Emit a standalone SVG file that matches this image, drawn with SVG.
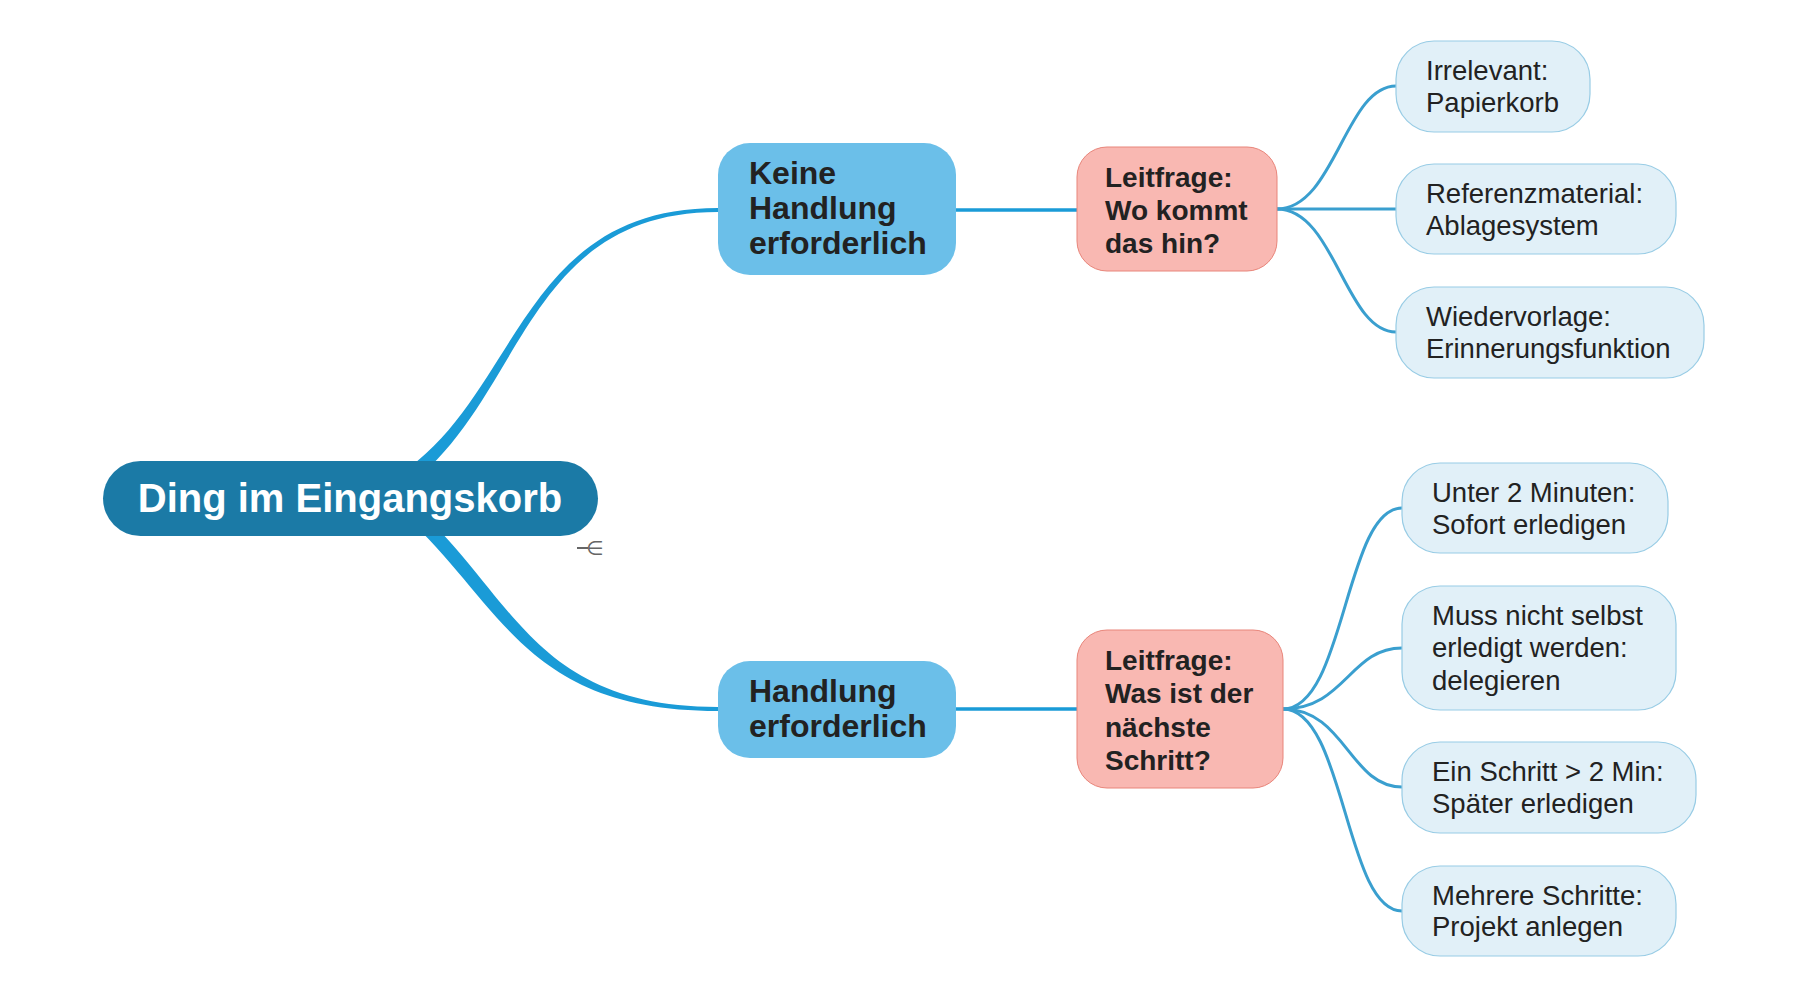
<svg xmlns="http://www.w3.org/2000/svg" width="1796" height="995" viewBox="0 0 1796 995">
<style>
.root{fill:#1b7aa6}
.main{fill:#6bbfe9}
.q{fill:#f9b8b2;stroke:#e8857a;stroke-width:1}
.leaf{fill:#e1f0f8;stroke:#98cce5;stroke-width:1.2}
.tb{font-family:"Liberation Sans",Arial,sans-serif;font-weight:bold;fill:#222}
.tr{font-family:"Liberation Sans",Arial,sans-serif;fill:#222;font-size:27.5px}
.thick{fill:#1a9bd7}
.thin{fill:none;stroke:#3a9fcf;stroke-width:3}
.mid{fill:none;stroke:#1a9bd7;stroke-width:3.5}
</style>
<rect width="1796" height="995" fill="#ffffff"/>
<g id="connectors">
<path class="thick" d="M 400 474 C 520 394, 520 208, 718 208 L 718 212 C 522 212, 524 404, 404 488 Z"/>
<path class="thick" d="M 392 488 C 512 578, 520 707, 718 707 L 718 711 C 512 711, 500 590, 386 500 Z"/>
<path class="mid" d="M 956 210 L 1077 210"/>
<path class="mid" d="M 956 709 L 1077 709"/>
<path class="thin" d="M 1277 209 C 1335 209, 1345 86, 1396 86"/>
<path class="thin" d="M 1277 209 L 1396 209"/>
<path class="thin" d="M 1277 209 C 1335 209, 1345 332, 1396 332"/>
<path class="thin" d="M 1283 709 C 1345 709, 1345 508, 1402 508"/>
<path class="thin" d="M 1283 709 C 1345 709, 1350 648, 1402 648"/>
<path class="thin" d="M 1283 709 C 1345 709, 1350 787, 1402 787"/>
<path class="thin" d="M 1283 709 C 1345 709, 1345 911, 1402 911"/>
</g>
<g id="root">
<rect class="root" x="103" y="461" width="495" height="75" rx="37.5"/>
<text x="350" y="512" text-anchor="middle" font-family="Liberation Sans, Arial, sans-serif" font-weight="bold" font-size="40" fill="#ffffff">Ding im Eingangskorb</text>
<line x1="577" y1="548" x2="588" y2="548" stroke="#666" stroke-width="2"/>
<text x="586" y="555" font-family="DejaVu Sans, sans-serif" font-size="20" fill="#666">∈</text>
</g>
<g id="keine">
<rect class="main" x="718" y="143" width="238" height="132" rx="32"/>
<text class="tb" font-size="32" x="749"><tspan x="749" y="184">Keine</tspan><tspan x="749" y="219">Handlung</tspan><tspan x="749" y="254">erforderlich</tspan></text>
</g>
<g id="handlung">
<rect class="main" x="718" y="661" width="238" height="97" rx="32"/>
<text class="tb" font-size="32" x="749"><tspan x="749" y="702">Handlung</tspan><tspan x="749" y="737">erforderlich</tspan></text>
</g>
<g id="leitfrage1">
<rect class="q" x="1077" y="147" width="200" height="124" rx="30"/>
<text class="tb" font-size="28"><tspan x="1105" y="187">Leitfrage:</tspan><tspan x="1105" y="220">Wo kommt</tspan><tspan x="1105" y="253">das hin?</tspan></text>
</g>
<g id="leitfrage2">
<rect class="q" x="1077" y="630" width="206" height="158" rx="30"/>
<text class="tb" font-size="28"><tspan x="1105" y="670">Leitfrage:</tspan><tspan x="1105" y="703">Was ist der</tspan><tspan x="1105" y="737">nächste</tspan><tspan x="1105" y="770">Schritt?</tspan></text>
</g>
<g id="leaf1">
<rect class="leaf" x="1396" y="41" width="194" height="91" rx="38"/>
<text class="tr"><tspan x="1426" y="80">Irrelevant:</tspan><tspan x="1426" y="112">Papierkorb</tspan></text>
</g>
<g id="leaf2">
<rect class="leaf" x="1396" y="164" width="280" height="90" rx="38"/>
<text class="tr"><tspan x="1426" y="203">Referenzmaterial:</tspan><tspan x="1426" y="235">Ablagesystem</tspan></text>
</g>
<g id="leaf3">
<rect class="leaf" x="1396" y="287" width="308" height="91" rx="38"/>
<text class="tr"><tspan x="1426" y="326">Wiedervorlage:</tspan><tspan x="1426" y="358">Erinnerungsfunktion</tspan></text>
</g>
<g id="leaf4">
<rect class="leaf" x="1402" y="463" width="266" height="90" rx="38"/>
<text class="tr"><tspan x="1432" y="502">Unter 2 Minuten:</tspan><tspan x="1432" y="534">Sofort erledigen</tspan></text>
</g>
<g id="leaf5">
<rect class="leaf" x="1402" y="586" width="274" height="124" rx="38"/>
<text class="tr"><tspan x="1432" y="625">Muss nicht selbst</tspan><tspan x="1432" y="657">erledigt werden:</tspan><tspan x="1432" y="690">delegieren</tspan></text>
</g>
<g id="leaf6">
<rect class="leaf" x="1402" y="742" width="294" height="91" rx="38"/>
<text class="tr"><tspan x="1432" y="781">Ein Schritt &gt; 2 Min:</tspan><tspan x="1432" y="813">Später erledigen</tspan></text>
</g>
<g id="leaf7">
<rect class="leaf" x="1402" y="866" width="274" height="90" rx="38"/>
<text class="tr"><tspan x="1432" y="905">Mehrere Schritte:</tspan><tspan x="1432" y="936">Projekt anlegen</tspan></text>
</g>
</svg>
